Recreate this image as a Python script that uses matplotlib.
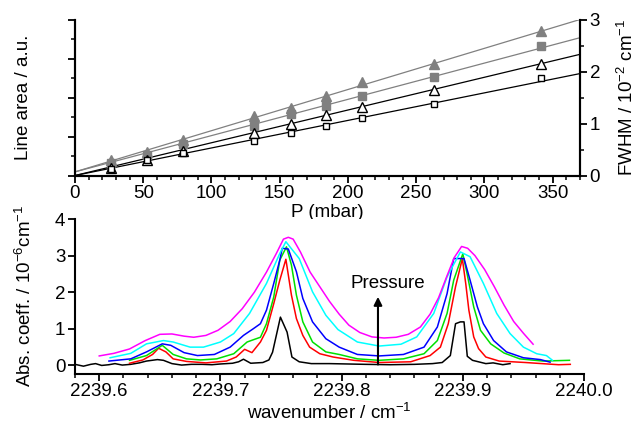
import numpy as np
import matplotlib
matplotlib.use("Agg")
import matplotlib.pyplot as plt
from matplotlib.ticker import MultipleLocator, NullFormatter

plt.rcParams['font.family'] = ['Liberation Sans', 'DejaVu Sans']
plt.rcParams['font.size'] = 13.5
plt.rcParams['mathtext.default'] = 'regular'
plt.rcParams['axes.unicode_minus'] = False

# top panel: widths / areas vs pressure
pressure = [26.5, 52.5, 79, 131.5, 158, 184, 210, 263, 341.5]
filled_tri = [0.30, 0.46, 0.69, 1.14, 1.30, 1.52, 1.79, 2.15, 2.77]
filled_sq = [0.24, 0.40, 0.61, 0.96, 1.18, 1.34, 1.52, 1.89, 2.50]
open_tri = [0.14, 0.30, 0.48, 0.82, 1.00, 1.16, 1.32, 1.64, 2.15]
open_sq = [0.12, 0.29, 0.44, 0.66, 0.82, 0.96, 1.10, 1.38, 1.87]

# linear fits, value at P=0 and P=370
fit_p = [0, 370]
fit_filled_tri = [0.07, 3.00]
fit_filled_sq = [0.07, 2.65]
fit_open_tri = [0.0, 2.33]
fit_open_sq = [0.0, 1.96]

# bottom panel: spectra, lowest to highest pressure
wn_black = [2239.580, 2239.587, 2239.593, 2239.597, 2239.602, 2239.608, 2239.613, 2239.619,
            2239.626, 2239.633, 2239.639, 2239.648, 2239.653, 2239.660, 2239.668, 2239.676,
            2239.685, 2239.693, 2239.700, 2239.710, 2239.715, 2239.719, 2239.725, 2239.735,
            2239.740, 2239.743, 2239.7495, 2239.755, 2239.759, 2239.765, 2239.775, 2239.790,
            2239.805, 2239.820, 2239.840, 2239.860, 2239.875, 2239.883, 2239.8897, 2239.894,
            2239.898, 2239.901, 2239.9037, 2239.908, 2239.919, 2239.925, 2239.933, 2239.939]
ab_black = [0.03, -0.02, 0.03, 0.05, 0.00, 0.02, 0.05, 0.01, 0.03, 0.07, 0.12, 0.16, 0.14, 0.05,
            0.01, 0.03, 0.03, 0.02, 0.04, 0.06, 0.10, 0.17, 0.06, 0.08, 0.15, 0.36, 1.32, 0.91,
            0.23, 0.10, 0.05, 0.05, 0.04, 0.03, 0.02, 0.03, 0.05, 0.08, 0.27, 1.14, 1.19, 1.19,
            0.25, 0.14, 0.05, 0.07, 0.02, 0.05]

wn_red = [2239.625, 2239.636, 2239.644, 2239.649, 2239.655, 2239.661, 2239.672, 2239.688,
          2239.705, 2239.713, 2239.720, 2239.726, 2239.733, 2239.738, 2239.744, 2239.749,
          2239.754, 2239.7586, 2239.7627, 2239.768, 2239.7736, 2239.782, 2239.793, 2239.810,
          2239.831, 2239.857, 2239.873, 2239.8815, 2239.888, 2239.894, 2239.8996, 2239.9024,
          2239.905, 2239.909, 2239.913, 2239.919, 2239.930, 2239.9517, 2239.979, 2239.9887]
ab_red = [0.06, 0.15, 0.30, 0.47, 0.37, 0.18, 0.11, 0.07, 0.12, 0.23, 0.44, 0.35, 0.64, 0.96,
          1.69, 2.33, 2.90, 1.92, 1.28, 0.82, 0.50, 0.32, 0.23, 0.14, 0.08, 0.10, 0.27, 0.50,
          1.14, 2.15, 2.92, 2.24, 1.51, 0.78, 0.46, 0.23, 0.12, 0.08, 0.02, 0.03]

wn_green = [2239.625, 2239.639, 2239.652, 2239.661, 2239.672, 2239.6836, 2239.697, 2239.711,
            2239.722, 2239.727, 2239.733, 2239.738, 2239.744, 2239.749, 2239.7545, 2239.7586,
            2239.7627, 2239.768, 2239.776, 2239.787, 2239.798, 2239.813, 2239.831, 2239.851,
            2239.868, 2239.879, 2239.887, 2239.8925, 2239.900, 2239.9035, 2239.909, 2239.9146,
            2239.923, 2239.934, 2239.947, 2239.966, 2239.988]
ab_green = [0.14, 0.27, 0.55, 0.30, 0.18, 0.15, 0.18, 0.32, 0.64, 0.70, 0.77, 1.14, 1.87, 2.88,
            3.24, 2.74, 1.92, 1.19, 0.64, 0.37, 0.30, 0.18, 0.14, 0.18, 0.32, 0.68, 1.42, 2.33,
            3.05, 2.51, 1.60, 0.96, 0.59, 0.34, 0.18, 0.12, 0.14]

wn_blue = [2239.608, 2239.626, 2239.639, 2239.652, 2239.659, 2239.670, 2239.681, 2239.695,
           2239.708, 2239.719, 2239.727, 2239.733, 2239.738, 2239.744, 2239.749, 2239.751,
           2239.756, 2239.7627, 2239.768, 2239.776, 2239.787, 2239.798, 2239.813, 2239.831,
           2239.851, 2239.868, 2239.879, 2239.887, 2239.8925, 2239.901, 2239.906, 2239.912,
           2239.917, 2239.9254, 2239.936, 2239.950, 2239.964, 2239.972]
ab_blue = [0.12, 0.18, 0.37, 0.59, 0.55, 0.35, 0.27, 0.30, 0.50, 0.82, 1.00, 1.14, 1.51, 2.24,
           2.88, 3.20, 3.18, 2.56, 1.83, 1.19, 0.73, 0.50, 0.30, 0.26, 0.30, 0.50, 1.05, 1.96,
           2.92, 2.92, 2.33, 1.60, 1.14, 0.68, 0.37, 0.21, 0.16, 0.09]

wn_cyan = [2239.609, 2239.626, 2239.639, 2239.653, 2239.661, 2239.675, 2239.686, 2239.700,
           2239.711, 2239.724, 2239.738, 2239.749, 2239.754, 2239.765, 2239.776, 2239.787,
           2239.797, 2239.813, 2239.831, 2239.849, 2239.862, 2239.876, 2239.887, 2239.898,
           2239.906, 2239.917, 2239.928, 2239.939, 2239.950, 2239.961, 2239.969, 2239.974]
ab_cyan = [0.21, 0.33, 0.59, 0.68, 0.64, 0.50, 0.50, 0.64, 0.87, 1.42, 2.24, 3.06, 3.38, 2.92,
           2.01, 1.37, 0.98, 0.64, 0.53, 0.58, 0.78, 1.42, 2.42, 3.10, 2.97, 2.24, 1.42, 0.87,
           0.50, 0.32, 0.27, 0.14]

wn_magenta = [2239.600, 2239.612, 2239.625, 2239.638, 2239.650, 2239.660, 2239.670, 2239.678,
              2239.688, 2239.698, 2239.708, 2239.718, 2239.728, 2239.738, 2239.746, 2239.752,
              2239.756, 2239.760, 2239.766, 2239.774, 2239.782, 2239.790, 2239.798, 2239.806,
              2239.815, 2239.825, 2239.835, 2239.845, 2239.855, 2239.865, 2239.873, 2239.880,
              2239.887, 2239.893, 2239.899, 2239.904, 2239.910, 2239.918, 2239.926, 2239.934,
              2239.942, 2239.950, 2239.958]
ab_magenta = [0.26, 0.33, 0.45, 0.68, 0.85, 0.86, 0.80, 0.77, 0.82, 0.96, 1.20, 1.55, 2.00, 2.55,
              3.05, 3.45, 3.50, 3.45, 3.10, 2.55, 2.15, 1.75, 1.40, 1.10, 0.90, 0.78, 0.75, 0.77,
              0.85, 1.05, 1.40, 1.85, 2.45, 2.95, 3.25, 3.20, 3.00, 2.62, 2.15, 1.65, 1.20, 0.88,
              0.58]

fig = plt.figure(figsize=(6.38, 4.30), dpi=100)

# ---- top panel
ax1 = fig.add_axes([75/638, 1-175.5/430, 505/638, 156/430])
gray = '#808080'
ax1.plot(fit_p, fit_filled_tri, color=gray, lw=0.9)
ax1.plot(fit_p, fit_filled_sq, color=gray, lw=0.9)
ax1.plot(fit_p, fit_open_tri, color='black', lw=0.9)
ax1.plot(fit_p, fit_open_sq, color='black', lw=0.9)
ax1.plot(pressure, filled_tri, '^', color=gray, ms=7.5, mec=gray)
ax1.plot(pressure, filled_sq, 's', color=gray, ms=5.5, mec=gray)
ax1.plot(pressure, open_tri, '^', mfc='white', mec='black', ms=6.5, mew=1.0)
ax1.plot(pressure, open_sq, 's', mfc='white', mec='black', ms=5, mew=1.0)
ax1.set_xlim(0, 370)
ax1.set_ylim(0, 3)
ax1.spines['top'].set_visible(False)
ax1.set_yticks(np.linspace(0, 3, 5))
ax1.yaxis.set_minor_locator(MultipleLocator(0.375))
ax1.yaxis.set_major_formatter(NullFormatter())
ax1.xaxis.set_major_locator(MultipleLocator(50))
ax1.xaxis.set_minor_locator(MultipleLocator(10))
ax1.set_xlabel('P (mbar)', labelpad=1)
ax1.set_ylabel('Line area / a.u.', labelpad=24)

ax1r = ax1.twinx()
ax1r.set_ylim(0, 3)
ax1r.yaxis.set_major_locator(MultipleLocator(1))
ax1r.yaxis.set_minor_locator(MultipleLocator(0.5))
ax1r.spines['top'].set_visible(False)
ax1r.set_ylabel('FWHM / 10$^{-2}$ cm$^{-1}$', labelpad=12)

# ---- bottom panel
ax2 = fig.add_axes([75/638, 1-373.5/430, 509/638, 154.5/430])
ax2.plot(wn_black, ab_black, color='black', lw=1.1)
ax2.plot(wn_red, ab_red, color='#ff0000', lw=1.1)
ax2.plot(wn_green, ab_green, color='#00e000', lw=1.1)
ax2.plot(wn_blue, ab_blue, color='#0000ff', lw=1.1)
ax2.plot(wn_cyan, ab_cyan, color='#00ffff', lw=1.1)
ax2.plot(wn_magenta, ab_magenta, color='#ff00ff', lw=1.1)
ax2.annotate('', xy=(2239.830, 1.95), xytext=(2239.830, -0.05),
             arrowprops=dict(arrowstyle='-|>', color='black', lw=1.5, mutation_scale=12))
ax2.text(2239.838, 2.0, 'Pressure', ha='center', va='bottom')
ax2.set_xlim(2239.58, 2240.0)
ax2.set_ylim(-0.22, 4)
ax2.spines['top'].set_visible(False)
ax2.spines['right'].set_visible(False)
ax2.xaxis.set_major_locator(MultipleLocator(0.1))
ax2.xaxis.set_minor_locator(MultipleLocator(0.02))
ax2.xaxis.set_major_formatter(plt.FuncFormatter(lambda v, p: '%.1f' % v))
ax2.yaxis.set_major_locator(MultipleLocator(1))
ax2.set_xlabel('wavenumber / cm$^{-1}$', labelpad=2)
ax2.set_ylabel('Abs. coeff. / 10$^{-6}$cm$^{-1}$', labelpad=14)

for a in (ax1, ax1r, ax2):
    for s in a.spines.values():
        s.set_linewidth(1.5)
    a.tick_params(which='major', direction='out', length=5, width=1.3, pad=2)
    a.tick_params(which='minor', direction='out', length=3, width=1.1)

fig.savefig('out.png', dpi=100)
